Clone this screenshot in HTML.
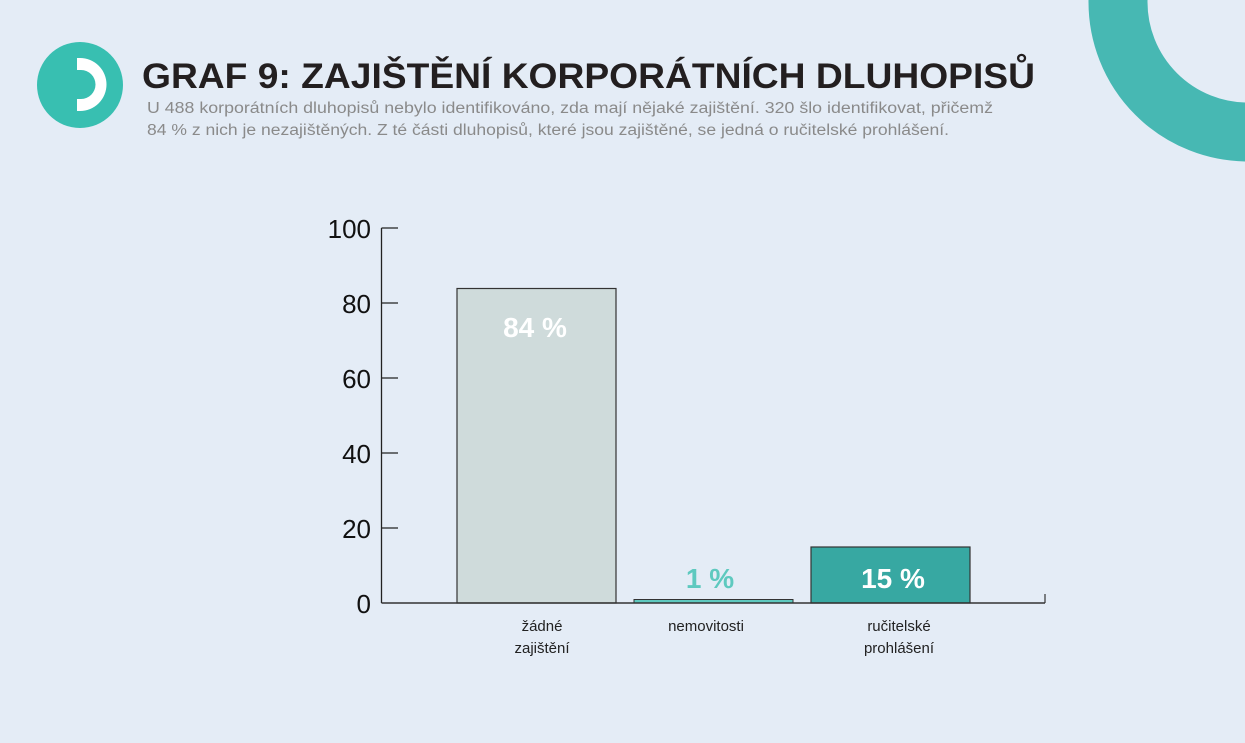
<!DOCTYPE html>
<html><head><meta charset="utf-8"><style>
html,body{margin:0;padding:0;background:#e4ecf6;}
svg{display:block;}
</style></head><body>
<svg width="1245" height="743" xmlns="http://www.w3.org/2000/svg">
<rect width="1245" height="743" fill="#e4ecf6"/>
<circle cx="1248" cy="2" r="130" fill="none" stroke="#47b8b3" stroke-width="59"/>
<circle cx="80" cy="85" r="43" fill="#38bfb1"/>
<path d="M77,58 H80 A26.5,26.5 0 0 1 80,111 H77 V99 H81 A14.5,14.5 0 0 0 81,70 H77 Z" fill="#fff"/>
<text x="142" y="88" font-family="Liberation Sans, sans-serif" font-weight="bold" font-size="35" fill="#231f20" textLength="893" lengthAdjust="spacingAndGlyphs">GRAF 9: ZAJIŠTĚNÍ KORPORÁTNÍCH DLUHOPISŮ</text>
<g font-family="Liberation Sans, sans-serif" font-size="15.5" fill="#8a8a8a">
<text x="147" y="113" textLength="846" lengthAdjust="spacingAndGlyphs">U 488 korporátních dluhopisů nebylo identifikováno, zda mají nějaké zajištění. 320 šlo identifikovat, přičemž</text>
<text x="147" y="135" textLength="802" lengthAdjust="spacingAndGlyphs">84 % z nich je nezajištěných. Z té části dluhopisů, které jsou zajištěné, se jedná o ručitelské prohlášení.</text>
</g>
<g stroke="#222" stroke-width="1.3">
<line x1="381.5" y1="228" x2="381.5" y2="603"/>
<line x1="381.5" y1="228" x2="398" y2="228"/>
<line x1="381.5" y1="303" x2="398" y2="303"/>
<line x1="381.5" y1="378" x2="398" y2="378"/>
<line x1="381.5" y1="453" x2="398" y2="453"/>
<line x1="381.5" y1="528" x2="398" y2="528"/>
</g>
<g font-family="Liberation Sans, sans-serif" font-size="26" fill="#111" text-anchor="end">
<text x="371" y="238">100</text>
<text x="371" y="313">80</text>
<text x="371" y="388">60</text>
<text x="371" y="463">40</text>
<text x="371" y="538">20</text>
<text x="371" y="613">0</text>
</g>
<rect x="457" y="288.5" width="159" height="314.5" fill="#cfdbdb" stroke="#333" stroke-width="1.2"/>
<rect x="634" y="599.5" width="159" height="3.5" fill="#5ec9bf" stroke="#333" stroke-width="1"/>
<rect x="811" y="547" width="159" height="56" fill="#37a8a2" stroke="#333" stroke-width="1.2"/>
<line x1="381.5" y1="603" x2="1045" y2="603" stroke="#333" stroke-width="1.4"/>
<line x1="1045" y1="594" x2="1045" y2="603" stroke="#333" stroke-width="1.2"/>
<g font-family="Liberation Sans, sans-serif" font-weight="bold" font-size="28" text-anchor="middle">
<text x="535" y="337" fill="#fff">84 %</text>
<text x="710" y="588" fill="#5ec9bf">1 %</text>
<text x="893" y="588" fill="#fff">15 %</text>
</g>
<g font-family="Liberation Sans, sans-serif" font-size="15" fill="#222" text-anchor="middle">
<text x="542" y="631">žádné</text>
<text x="542" y="653">zajištění</text>
<text x="706" y="631">nemovitosti</text>
<text x="899" y="631">ručitelské</text>
<text x="899" y="653">prohlášení</text>
</g>
</svg>
</body></html>
